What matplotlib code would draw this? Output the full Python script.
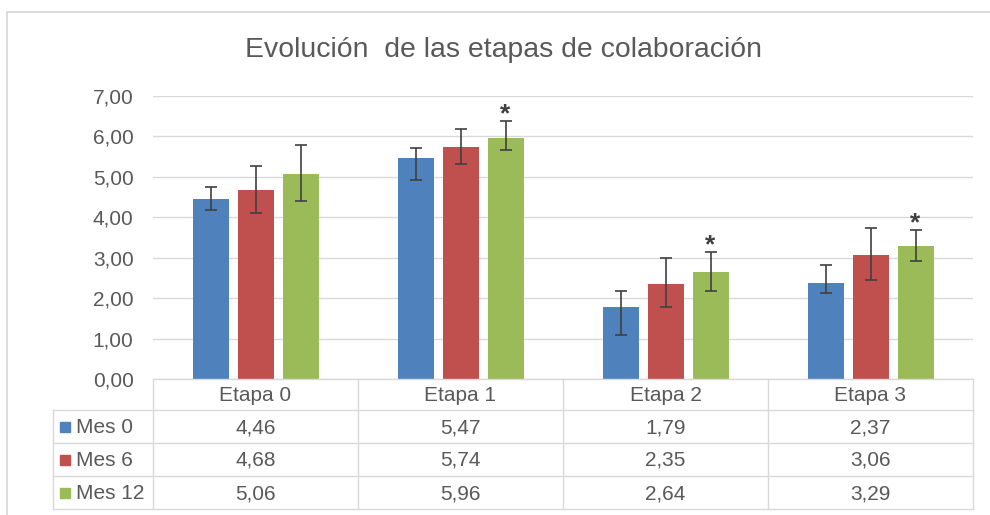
import numpy as np
import matplotlib
matplotlib.use("Agg")
import matplotlib.pyplot as plt
from matplotlib.patches import Rectangle
from matplotlib.ticker import FuncFormatter, MultipleLocator

plt.rcParams['font.family'] = ['Liberation Sans', 'DejaVu Sans']

# ---------------- data ----------------
categories = ["Etapa 0", "Etapa 1", "Etapa 2", "Etapa 3"]
series = ["Mes 0", "Mes 6", "Mes 12"]
mes0 = [4.46, 5.47, 1.79, 2.37]
mes6 = [4.68, 5.74, 2.35, 3.06]
mes12 = [5.06, 5.96, 2.64, 3.29]
# error bars (lower, upper)
mes0_err_low = [0.27, 0.56, 0.70, 0.25]
mes0_err_up = [0.28, 0.25, 0.38, 0.45]
mes6_err_low = [0.57, 0.41, 0.58, 0.60]
mes6_err_up = [0.58, 0.44, 0.64, 0.68]
mes12_err_low = [0.65, 0.29, 0.46, 0.36]
mes12_err_up = [0.73, 0.41, 0.49, 0.39]
mes12_signif = [False, True, True, True]
title = "Evolución  de las etapas de colaboración"

colors = ["#4f81bd", "#c0504d", "#9bbb59"]
grid_c = "#d9d9d9"
text_c = "#595959"
err_c = "#404040"

W, H = 990, 515
fig = plt.figure(figsize=(W / 100, H / 100), dpi=100)
fig.patch.set_facecolor("white")

def fx(px):
    return px / W

def fy(py):
    return 1 - py / H

# chart border
fig.patches.append(Rectangle((fx(7), fy(1000)), fx(1100) - fx(7), fy(12) - fy(1000),
                             transform=fig.transFigure, fill=False,
                             edgecolor=grid_c, linewidth=1.3))

# ---------------- main axes ----------------
L, R, T, B = 153, 973, 96, 379
ax = fig.add_axes([fx(L), fy(B), fx(R) - fx(L), fy(T) - fy(B)])
ax.set_xlim(-0.5, 3.5)
ax.set_ylim(0, 7)
for s in ax.spines.values():
    s.set_visible(False)
ax.yaxis.set_major_locator(MultipleLocator(1))
ax.yaxis.set_major_formatter(FuncFormatter(lambda v, p: f"{v:.2f}".replace(".", ",")))
ax.tick_params(axis="y", length=0, pad=14, labelsize=15, labelcolor=text_c)
ax.set_xticks([])
ax.grid(axis="y", color=grid_c, linewidth=1.0)
ax.set_axisbelow(True)

x = np.arange(len(categories))
step = 45 / 205
width = 36 / 205
vals = [mes0, mes6, mes12]
lows = [mes0_err_low, mes6_err_low, mes12_err_low]
ups = [mes0_err_up, mes6_err_up, mes12_err_up]
for i in range(3):
    xi = x + (i - 1) * step
    ax.bar(xi, vals[i], width=width, color=colors[i], zorder=2)
    ax.errorbar(xi, vals[i], yerr=[lows[i], ups[i]], fmt="none", ecolor=err_c,
                elinewidth=1.2, capsize=4.3, capthick=1.2, zorder=3)

xi = x + step
for k in range(len(categories)):
    if mes12_signif[k]:
        ax.annotate("*", (xi[k], mes12[k] + mes12_err_up[k]), xytext=(0, 0),
                    textcoords="offset points", ha="center", va="baseline",
                    fontsize=19, fontweight="bold", color=err_c)

# ---------------- table ----------------
TL, TB = 53, 509
tax = fig.add_axes([fx(TL), fy(TB), fx(R) - fx(TL), fy(B) - fy(TB)])
left_cat = -0.5 - (L - TL) / 205
tax.set_xlim(left_cat, 3.5)
tax.set_ylim(TB - B, 0)
tax.axis("off")

row_y = [0, 31, 64, 97, 130]
lw = 1.0
# horizontal lines
tax.plot([-0.5, 3.5], [0, 0], color=grid_c, lw=lw, clip_on=False)
for yy in row_y[1:]:
    tax.plot([left_cat, 3.5], [yy, yy], color=grid_c, lw=lw, clip_on=False)
# vertical lines
tax.plot([left_cat, left_cat], [row_y[1], row_y[-1]], color=grid_c, lw=lw, clip_on=False)
for k in range(len(categories) + 1):
    xx = -0.5 + k
    tax.plot([xx, xx], [0, row_y[-1]], color=grid_c, lw=lw, clip_on=False)

fs = 15
for k, c in enumerate(categories):
    tax.text(k, (row_y[0] + row_y[1]) / 2 + 1, c, ha="center", va="center",
             fontsize=fs, color=text_c)
for i, name in enumerate(series):
    yc = (row_y[i + 1] + row_y[i + 2]) / 2 + 1
    tax.plot([-0.5 - (L - 65) / 205], [yc - 1], marker="s", markersize=7,
             color=colors[i], clip_on=False, linestyle="none")
    tax.text(-0.5 - (L - 76) / 205, yc, name, ha="left", va="center",
             fontsize=fs, color=text_c)
    for k in range(len(categories)):
        tax.text(k, yc, f"{vals[i][k]:.2f}".replace(".", ","), ha="center",
                 va="center", fontsize=fs, color=text_c)

# ---------------- title ----------------
fig.text(fx(504), fy(50), title, ha="center", va="center", fontsize=20.4,
         color=text_c)

fig.savefig("out.png", dpi=100, facecolor="white")
